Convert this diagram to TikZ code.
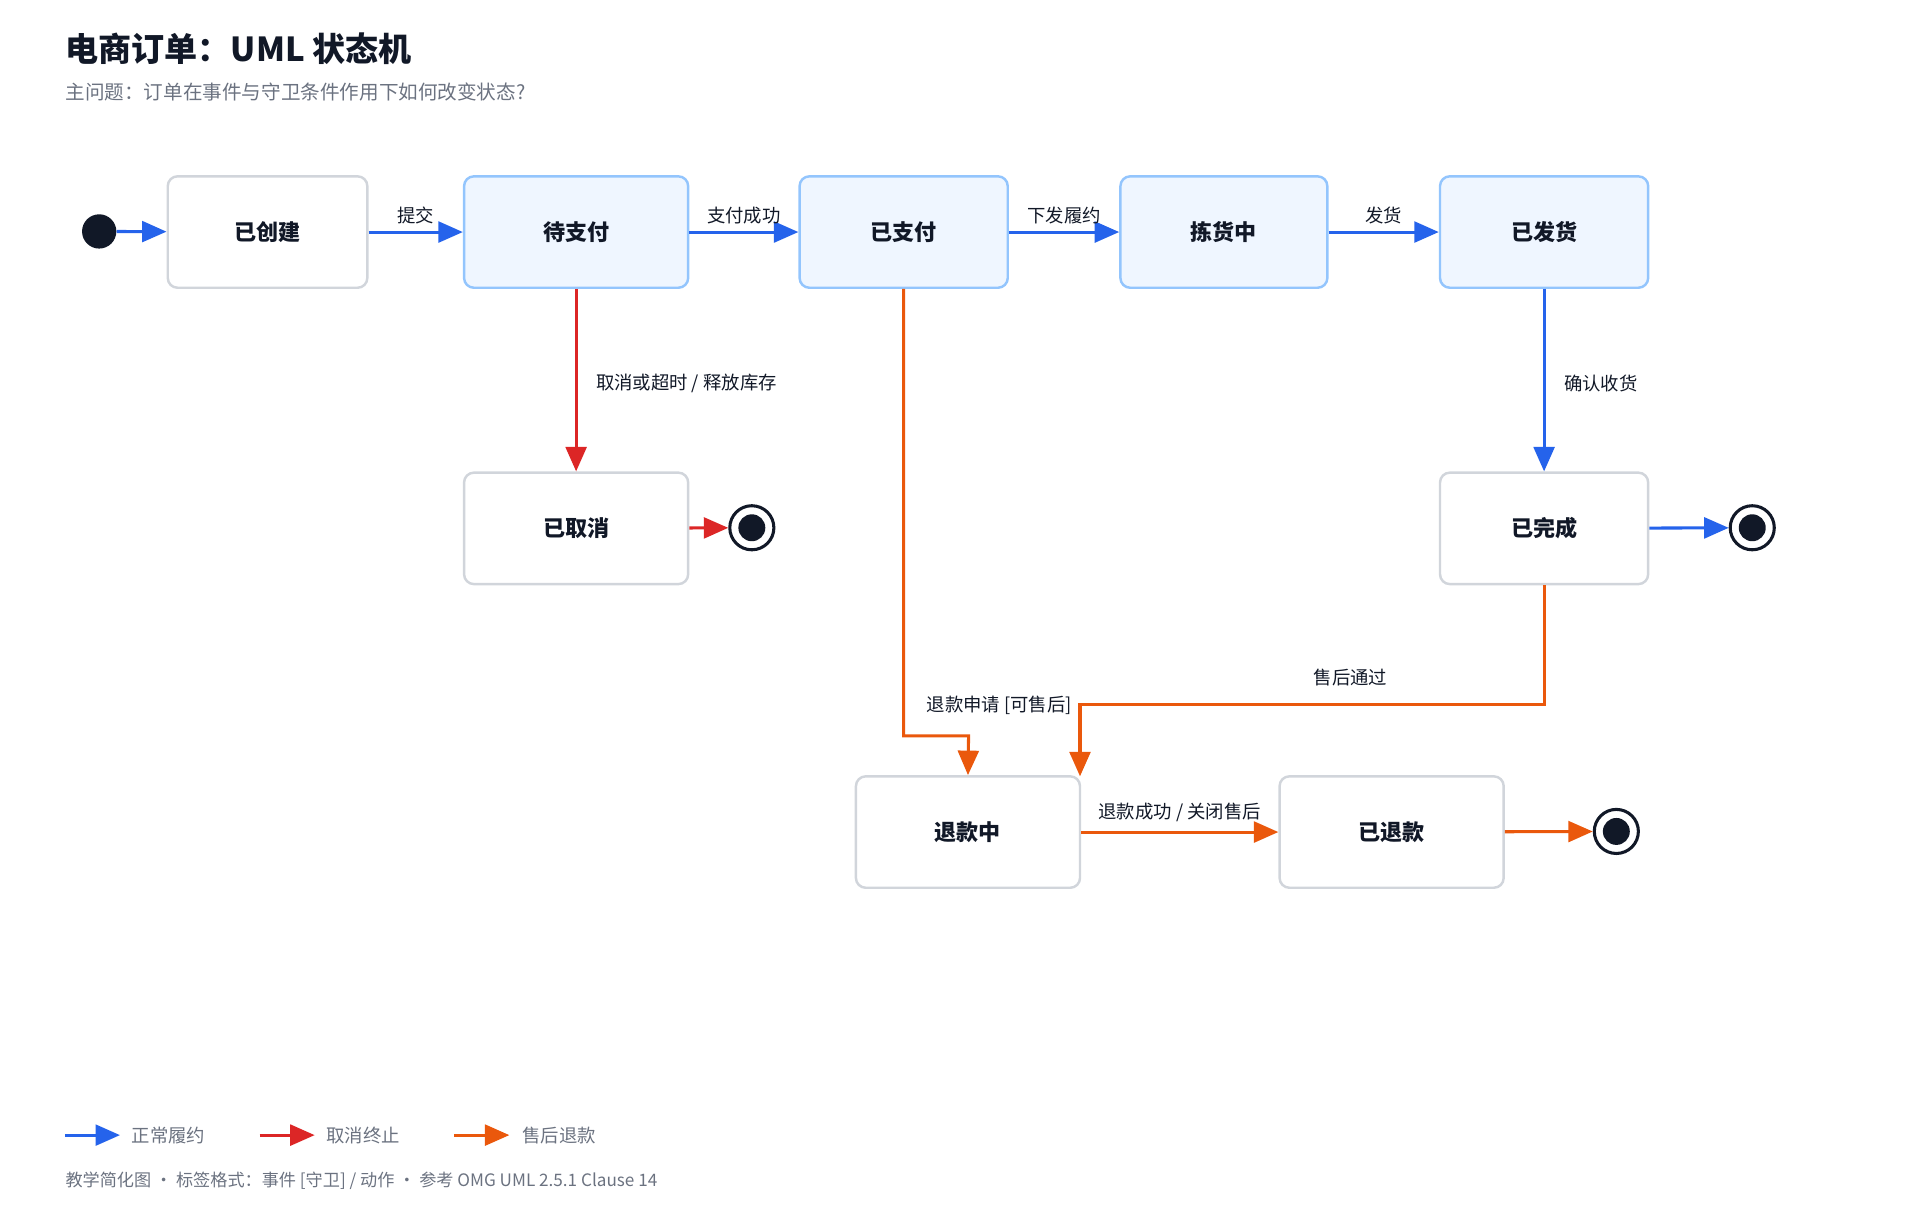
\documentclass[tikz,border=0pt]{standalone}
\usepackage{fontspec}
\setmainfont{Noto Sans CJK SC}
\newfontfamily\cjkb{Noto Sans CJK SC}[BoldFont={* Bold}]
\usetikzlibrary{arrows.meta}
\definecolor{cblue}{HTML}{2563EB}
\definecolor{cred}{HTML}{DC2626}
\definecolor{corange}{HTML}{EA580C}
\definecolor{ink}{HTML}{111827}
\definecolor{gray1}{HTML}{6B7280}
\definecolor{bgray}{HTML}{D1D5DB}
\definecolor{bblue}{HTML}{93C5FD}
\definecolor{fblue}{HTML}{EFF6FF}
\begin{document}
\begin{tikzpicture}[x=1pt,y=-1pt,
 st/.style={draw=bgray,line width=2pt,fill=white,rounded corners=8pt,inner sep=0pt,font=\fontsize{18}{20}\selectfont\bfseries,text=ink},
 ac/.style={st,draw=bblue,fill=fblue},
 ed/.style={line width=2.5pt,-{Triangle[length=20pt,width=17pt]}},
 bl/.style={ed,cblue}, rd/.style={ed,cred}, og/.style={ed,corange},
 lb/.style={font=\fontsize{15}{17}\selectfont,text=ink,inner sep=1pt},
 fin/.style={circle,draw=ink,line width=2.5pt,fill=white,minimum size=36pt,inner sep=0pt,path picture={\fill[ink] (path picture bounding box.center) circle (11pt);}}]
\useasboundingbox (0,0) rectangle (1568,993);
\node[anchor=west,font=\fontsize{27}{30}\selectfont\bfseries,text=ink] at (50,40) {电商订单：UML 状态机};
\node[anchor=west,font=\fontsize{16}{18}\selectfont,text=gray1] at (50,75) {主问题：订单在事件与守卫条件作用下如何改变状态?};
\node[circle,fill=ink,minimum size=28pt,inner sep=0pt] (init) at (81,189) {};
\node[st,minimum width=163pt,minimum height=91pt] (c) at (218.5,189.5) {已创建};
\node[ac,minimum width=183pt,minimum height=91pt] (p) at (470.5,189.5) {待支付};
\node[ac,minimum width=170pt,minimum height=91pt] (pd) at (738,189.5) {已支付};
\node[ac,minimum width=169pt,minimum height=91pt] (pk) at (999.5,189.5) {拣货中};
\node[ac,minimum width=170pt,minimum height=91pt] (sh) at (1261,189.5) {已发货};
\node[st,minimum width=183pt,minimum height=91pt] (cn) at (470.5,431.5) {已取消};
\node[st,minimum width=170pt,minimum height=91pt] (dn) at (1261,431.5) {已完成};
\node[st,minimum width=183pt,minimum height=91pt] (rf) at (790.5,679.5) {退款中};
\node[st,minimum width=183pt,minimum height=91pt] (rd) at (1136.5,679.5) {已退款};
\node[fin] (f1) at (614,431) {};
\node[fin] (f2) at (1431,431) {};
\node[fin] (f3) at (1320,679) {};
\draw[bl] (init) -- (c);
\draw[bl] (c) -- node[lb,above=4pt]{提交} (p);
\draw[bl] (p) -- node[lb,above=4pt]{支付成功} (pd);
\draw[bl] (pd) -- node[lb,above=4pt]{下发履约} (pk);
\draw[bl] (pk) -- node[lb,above=4pt]{发货} (sh);
\draw[rd] (p) -- node[lb,right=14pt,pos=0.52]{取消或超时 / 释放库存} (cn);
\draw[bl] (sh) -- node[lb,right=14pt,pos=0.52]{确认收货} (dn);
\draw[rd] (cn) -- (f1);
\draw[bl] (dn) -- (f2);
\draw[og] (rd) -- (f3);
\draw[og] (rf) -- node[lb,above=6pt]{退款成功 / 关闭售后} (rd);
\draw[og,rounded corners=0pt] (pd.south) -- (738,601) -- (791,601) -- (rf.north);
\node[lb] at (816,576) {退款申请 [可售后]};
\draw[og] (dn.south) -- (1261,575) -- (882,575) -- (882,634);
\node[lb] at (1103,553) {售后通过};
\coordinate (l1a) at (53,927); \coordinate (l1b) at (98,927);
\coordinate (l2a) at (212,927); \coordinate (l2b) at (257,927);
\coordinate (l3a) at (371,927); \coordinate (l3b) at (416,927);
\draw[bl] (l1a) -- (l1b); \draw[rd] (l2a) -- (l2b); \draw[og] (l3a) -- (l3b);
\tikzset{lg/.style={anchor=west,font=\fontsize{15}{17}\selectfont,text=gray1}}
\node[lg] at (104,927) {正常履约};
\node[lg] at (263,927) {取消终止};
\node[lg] at (423,927) {售后退款};
\node[anchor=west,font=\fontsize{14}{16}\selectfont,text=gray1] at (50,964) {教学简化图 · 标签格式：事件 [守卫] / 动作 · 参考 OMG UML 2.5.1 Clause 14};
\end{tikzpicture}
\end{document}
